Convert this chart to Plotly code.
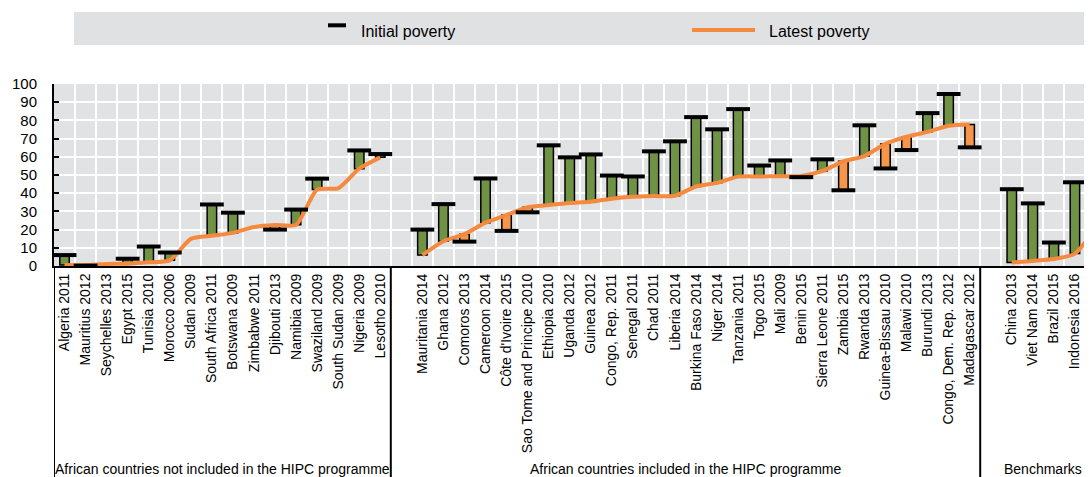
import plotly.graph_objects as go

# ---------------- data ----------------
group_labels = [
    "African countries not included in the HIPC programme",
    "African countries included in the HIPC programme",
    "Benchmarks",
]

g1_names = ["Algeria 2011", "Mauritius 2012", "Seychelles 2013", "Egypt 2015", "Tunisia 2010",
            "Morocco 2006", "Sudan 2009", "South Africa 2011", "Botswana 2009", "Zimbabwe 2011",
            "Djibouti 2013", "Namibia 2009", "Swaziland 2009", "South Sudan 2009", "Nigeria 2009",
            "Lesotho 2010"]
g1_initial = [6.0, 0.2, None, 4.0, 10.7, 7.4, None, 33.8, 29.3, None,
              20.0, 31.0, 48.0, None, 63.5, 61.5]
g1_latest = [0.5, 0.5, 1.1, 1.3, 2.0, 3.1, 14.9, 16.6, 18.2, 21.4,
             22.5, 22.6, 42.0, 42.7, 53.5, 59.7]

g2_names = ["Mauritania 2014", "Ghana 2012", "Comoros 2013", "Cameroon 2014", "Côte d'Ivoire 2015",
            "Sao Tome and Principe 2010", "Ethiopia 2010", "Uganda 2012", "Guinea 2012",
            "Congo, Rep. 2011", "Senegal 2011", "Chad 2011", "Liberia 2014", "Burkina Faso 2014",
            "Niger 2014", "Tanzania 2011", "Togo 2015", "Mali 2009", "Benin 2015",
            "Sierra Leone 2011", "Zambia 2015", "Rwanda 2013", "Guinea-Bissau 2010", "Malawi 2010",
            "Burundi 2013", "Congo, Dem. Rep. 2012", "Madagascar 2012"]
g2_initial = [20.0, 34.0, 13.4, 48.1, 19.3, 29.5, 66.3, 59.7, 61.3, 49.7,
              49.2, 63.0, 68.5, 81.8, 75.1, 86.2, 55.2, 58.0, 48.8, 58.6,
              41.6, 77.3, 53.6, 63.7, 84.0, 94.5, 65.2]
g2_latest = [6.0, 13.6, 17.5, 23.8, 28.0, 32.3, 33.5, 34.6, 35.3, 37.0,
             38.0, 38.4, 38.6, 43.7, 45.7, 49.1, 49.2, 49.3, 49.5, 52.2,
             57.5, 60.4, 67.1, 71.0, 73.7, 77.1, 77.8]

g3_names = ["China 2013", "Viet Nam 2014", "Brazil 2015", "Indonesia 2016", "India 2011"]
g3_initial = [42.2, 34.4, 12.9, 46.0, 38.1]
g3_latest = [1.9, 2.8, 3.8, 6.8, 21.2]

groups = [
    (g1_names, g1_initial, g1_latest),
    (g2_names, g2_initial, g2_latest),
    (g3_names, g3_initial, g3_latest),
]

# ---------------- styles ----------------
GREEN = "#6f9244"
ORANGE_BAR = "#f7964a"
ORANGE_LINE = "#f58a3f"
BG = "#e1e2e4"
FONT = "Liberation Sans, Arial, sans-serif"

OFF = 8  # page body margin in the browser
W, H = 1092 - OFF, 477 - OFF
ML, MT = 54 - OFF, 84 - OFF
MR = 0
MB = 477 - 266
plot_h = H - MT - MB
plot_w = W - ML - MR

# ---------------- positions (one empty slot before groups 2 and 3) ----------------
xs_groups = []
pos = 0
separators = [-0.5]
for gi, (names, _, _) in enumerate(groups):
    if gi > 0:
        pos += 1
    xs = list(range(pos, pos + len(names)))
    xs_groups.append(xs)
    pos += len(names)
    separators.append(xs[-1] + 0.5)
group_centers = [(separators[gi] + separators[gi + 1]) / 2 for gi in range(len(groups))]

fig = go.Figure()

all_x, all_text = [], []
bar_x, bar_base, bar_len, bar_col = [], [], [], []
cap_x, cap_y = [], []
for (names, ini, lat), xs in zip(groups, xs_groups):
    all_x += xs
    all_text += names
    fig.add_trace(go.Scatter(
        x=xs, y=lat, mode="lines", line=dict(color=ORANGE_LINE, width=4, shape="spline", smoothing=0.6),
        showlegend=False, hoverinfo="skip"))
    for x, a, b in zip(xs, ini, lat):
        if a is None:
            continue
        bar_x.append(x)
        bar_base.append(min(a, b))
        bar_len.append(abs(a - b))
        bar_col.append(GREEN if a >= b else ORANGE_BAR)
        cap_x.append(x)
        cap_y.append(a)

fig.add_trace(go.Bar(
    x=bar_x, y=bar_len, base=bar_base, width=0.45,
    marker=dict(color=bar_col, line=dict(color="black", width=1.5)),
    showlegend=False, hoverinfo="skip"))

fig.add_trace(go.Scatter(
    x=cap_x, y=cap_y, mode="markers", cliponaxis=False,
    marker=dict(symbol="line-ew", size=17, color="black", line=dict(color="black", width=4)),
    showlegend=False, hoverinfo="skip"))

x_end = -0.5 + plot_w / 21.05
boundaries = [i - 0.5 for i in range(0, pos + 1)]

fig.update_layout(
    width=W, height=H,
    margin=dict(l=ML, r=MR, t=MT, b=MB, pad=0, autoexpand=False),
    paper_bgcolor="white", plot_bgcolor=BG,
    font=dict(family=FONT, size=14, color="black"),
    barmode="overlay",
    showlegend=False,
    xaxis=dict(
        range=[-0.5, x_end], tickmode="array", tickvals=all_x, ticktext=all_text,
        tickangle=-90, tickfont=dict(size=14, color="black"), showgrid=False, automargin=False,
        showline=True, linecolor="black", linewidth=2, ticks="", zeroline=False,
        minor=dict(tickmode="array", tickvals=boundaries, showgrid=True, gridcolor="white", gridwidth=2, ticks=""),
    ),
    yaxis=dict(
        range=[0, 100], dtick=10, tick0=0, tickfont=dict(size=15, color="black"), automargin=False,
        showgrid=True, gridcolor="white", gridwidth=2, zeroline=False,
        showline=True, linecolor="black", linewidth=2,
        ticks="inside", ticklen=5, tickcolor="black", tickwidth=1.5, ticklabelstandoff=12,
    ),
)

# screen-pixel helpers (reference coordinates)
def px_x(p):
    return (p - OFF - ML) / plot_w

def px_y(p):
    return 1 + (MT + OFF - p) / plot_h

shapes = []
for s in separators:
    shapes.append(dict(type="line", xref="x", yref="paper", x0=s, x1=s, y0=0, y1=px_y(477),
                       line=dict(color="black", width=2)))

shapes.append(dict(type="rect", xref="paper", yref="paper", x0=px_x(74), x1=1.0, y0=px_y(45), y1=px_y(12),
                   fillcolor="#e0e1e3", line=dict(width=0), layer="below"))
shapes.append(dict(type="line", xref="paper", yref="paper", x0=px_x(328), x1=px_x(346), y0=px_y(25.3), y1=px_y(25.3),
                   line=dict(color="black", width=4)))
shapes.append(dict(type="line", xref="paper", yref="paper", x0=px_x(692), x1=px_x(755), y0=px_y(30), y1=px_y(30),
                   line=dict(color=ORANGE_LINE, width=4)))
fig.update_layout(shapes=shapes)

annotations = [
    dict(text="Initial poverty", xref="paper", yref="paper", x=px_x(359), y=px_y(31.5), xanchor="left",
         yanchor="middle", showarrow=False, font=dict(size=16, color="black")),
    dict(text="Latest poverty", xref="paper", yref="paper", x=px_x(767), y=px_y(31.5), xanchor="left",
         yanchor="middle", showarrow=False, font=dict(size=16, color="black")),
]
for lbl, cx in zip(group_labels, group_centers):
    annotations.append(dict(text=lbl, xref="x", yref="paper", x=cx, y=px_y(469),
                            xanchor="center", yanchor="middle", showarrow=False,
                            font=dict(size=14, color="black")))
fig.update_layout(annotations=annotations)

fig.write_html("out.html")
